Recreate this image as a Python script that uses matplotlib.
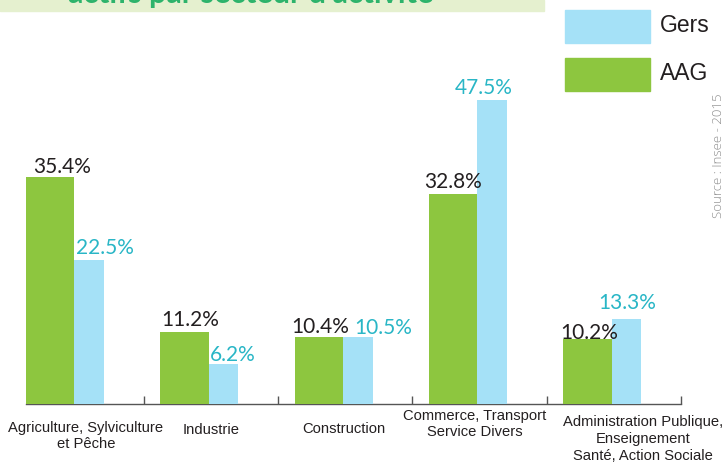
import matplotlib
matplotlib.use("Agg")
import matplotlib.pyplot as plt
from matplotlib.patches import Rectangle

categories = ["Agriculture, Sylviculture\net Pêche", "Industrie", "Construction",
              "Commerce, Transport\nService Divers",
              "Administration Publique,\nEnseignement\nSanté, Action Sociale"]
aag = [35.4, 11.2, 10.4, 32.8, 10.2]
gers = [22.5, 6.2, 10.5, 47.5, 13.3]
series_names = ["Gers", "AAG"]
title_text = "actifs par secteur d'activité"
source_text = "Source : Insee - 2015"

GREEN = "#8dc63f"
BLUE = "#a5e1f7"
CYAN = "#29b6c6"
DARK = "#231f20"

W, H = 724, 465
fig = plt.figure(figsize=(W / 100, H / 100), dpi=100)

def fx(x):
    return x / W

def fy(y):
    return 1 - y / H

# axes placement (pixels)
ax_left, ax_right, ax_base, ax_top = 26, 681, 404, 20
ax = fig.add_axes([fx(ax_left), fy(ax_base), fx(ax_right - ax_left), (ax_base - ax_top) / H])
ax.set_xlim(0.123, 5.0)
ax.set_ylim(0, (ax_base - ax_top) / 6.41)

g_off, g_w, b_w = 0.123, 0.36, 0.22
idx = list(range(len(categories)))
gx = [i + g_off for i in idx]
bx = [i + g_off + g_w for i in idx]
ax.bar(gx, aag, width=g_w, align="edge", color=GREEN, zorder=3)
ax.bar(bx, gers, width=b_w, align="edge", color=BLUE, zorder=3)

for s in ["top", "left", "right"]:
    ax.spines[s].set_visible(False)
ax.spines["bottom"].set_color("#555555")
ax.spines["bottom"].set_linewidth(1.0)
ax.spines["bottom"].set_zorder(2)
ax.set_yticks([])
ax.set_xticks([1, 2, 3, 4, 5])
ax.set_xticklabels([])
ax.tick_params(axis="x", direction="in", length=5.5, width=1.0, color="#555555")

val_font = ["Lato", "DejaVu Sans"]
aag_dx = [11.5, 5.5, 1, 0, 1.5]
aag_dy = [4, 6, 4, 6, 0]
gers_dx = [15.5, 9.5, 25, -8.5, 0.5]
gers_dy = [6, 3, 3, 6, 10]
for i in idx:
    ax.annotate(f"{aag[i]:.1f}%", (gx[i] + g_w / 2, aag[i]), xytext=(aag_dx[i], aag_dy[i]),
                textcoords="offset pixels", ha="center", va="baseline",
                fontsize=15, color=DARK, family=val_font, zorder=5)
    ax.annotate(f"{gers[i]:.1f}%", (bx[i] + b_w / 2, gers[i]), xytext=(gers_dx[i], gers_dy[i]),
                textcoords="offset pixels", ha="center", va="baseline",
                fontsize=15, color=CYAN, family=val_font, zorder=5)

cond = ["Liberation Sans Narrow", "Liberation Sans", "DejaVu Sans"]
# category labels (pixel centers)
cat_pos = [(86, 436), (211, 430), (344, 429), (475, 424), (643, 439)]
for lab, (x, y) in zip(categories, cat_pos):
    fig.text(fx(x), fy(y), lab, ha="center", va="center", fontsize=10.6,
             color=DARK, family=cond, linespacing=1.25)

# legend
fig.patches.append(Rectangle((fx(565), fy(43)), fx(85), 33 / H, transform=fig.transFigure,
                             color=BLUE, figure=fig))
fig.patches.append(Rectangle((fx(565), fy(91)), fx(85), 33 / H, transform=fig.transFigure,
                             color=GREEN, figure=fig))
fig.text(fx(660), fy(26), series_names[0], ha="left", va="center", fontsize=16.5,
         color=DARK, family=cond)
fig.text(fx(660), fy(74), series_names[1], ha="left", va="center", fontsize=16.5,
         color=DARK, family=cond)

# source
fig.text(fx(719), fy(156), source_text, rotation=90, ha="center", va="center",
         fontsize=9.5, color="#8c8c8c", family=["Open Sans", "DejaVu Sans"], fontweight="light")

# clipped title box
fig.patches.append(Rectangle((0, fy(11)), fx(544), 11 / H, transform=fig.transFigure,
                             color="#e5f0cf", figure=fig, zorder=0))
fig.text(fx(68), fy(3), title_text, ha="left", va="baseline", fontsize=22,
         color="#2db36b", family=["Lato", "DejaVu Sans"], fontweight="bold")

fig.savefig("out.png", dpi=100)
